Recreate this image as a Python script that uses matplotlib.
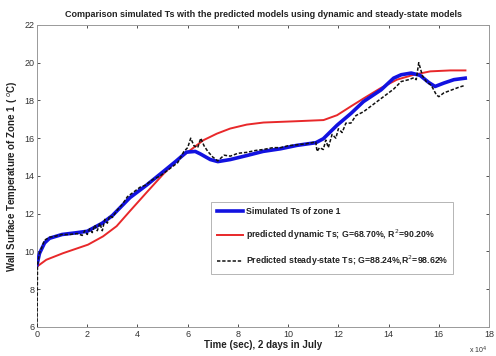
import matplotlib
matplotlib.use("Agg")
import matplotlib.pyplot as plt

plt.rcParams['font.family'] = ['Liberation Sans', 'DejaVu Sans']

# time in units of 1e4 seconds
t_sim = [0.0, 0.1, 0.3, 0.5, 1.0, 1.5, 2.0, 2.6, 3.0, 3.7, 4.35, 5.0, 5.55, 5.95, 6.3, 6.5,
         6.9, 7.2, 7.7, 8.35, 9.0, 9.7, 10.35, 11.1, 11.4, 11.95, 12.5, 13.0, 13.7, 14.2,
         14.5, 14.9, 15.25, 15.6, 15.85, 16.2, 16.6, 17.05]
ts_sim = [9.3, 9.9, 10.45, 10.7, 10.9, 10.98, 11.07, 11.5, 11.9, 12.85, 13.5, 14.2, 14.8,
          15.26, 15.3, 15.17, 14.87, 14.76, 14.87, 15.08, 15.3, 15.44, 15.62, 15.76, 15.97,
          16.69, 17.31, 17.94, 18.56, 19.18, 19.36, 19.45, 19.33, 18.95, 18.74, 18.92,
          19.1, 19.18]

t_dyn = [0.0, 0.37, 1.04, 2.03, 2.63, 3.17, 3.7, 4.36, 5.03, 5.56, 6.09, 6.62, 7.16, 7.69,
         8.35, 9.02, 10.35, 11.41, 11.95, 12.48, 13.01, 13.68, 14.33, 15.0, 15.66, 16.46,
         17.06]
ts_dyn = [9.2, 9.56, 9.91, 10.36, 10.8, 11.34, 12.14, 13.12, 14.1, 14.8, 15.35, 15.89,
          16.24, 16.51, 16.72, 16.83, 16.9, 16.96, 17.22, 17.67, 18.11, 18.65, 19.1, 19.36,
          19.54, 19.59, 19.59]

t_ss = [0.0, 0.02, 0.1, 0.3, 0.5, 0.7, 1.0, 1.3, 1.6, 1.8, 1.9, 2.0, 2.1, 2.2, 2.3, 2.4,
        2.5, 2.6, 2.7, 2.8, 2.9, 3.0, 3.2, 3.4, 3.6, 3.8, 4.1, 4.3, 4.6, 4.9, 5.3, 5.6, 5.85,
        6.0, 6.12, 6.25, 6.4, 6.52, 6.65, 6.8, 7.0, 7.2, 7.45, 7.7, 8.0, 8.35, 8.7, 9.0,
        9.4, 9.7, 10.0, 10.35, 10.7, 11.1, 11.15, 11.25, 11.4, 11.5, 11.6, 11.75, 11.9,
        12.0, 12.15, 12.3, 12.5, 12.7, 13.0, 13.3, 13.6, 13.9, 14.2, 14.5, 14.8, 15.0,
        15.1, 15.2, 15.35, 15.5, 15.7, 15.9, 16.0, 16.2, 16.4, 16.6, 16.8, 17.05]
ts_ss = [6.0, 9.3, 9.9, 10.6, 10.75, 10.8, 10.9, 10.9, 10.95, 10.85, 11.1, 10.9, 11.2,
         11.0, 11.4, 11.1, 11.5, 11.1, 11.7, 11.5, 11.9, 11.8, 12.2, 12.5, 12.9, 13.1,
         13.4, 13.5, 13.8, 14.0, 14.4, 14.7, 15.3, 15.5, 16.0, 15.6, 15.5, 16.0, 15.6,
         15.3, 15.0, 14.8, 15.1, 15.05, 15.2, 15.25, 15.35, 15.4, 15.5, 15.5, 15.6, 15.65,
         15.7, 15.8, 15.3, 15.5, 15.4, 15.9, 15.5, 16.2, 16.0, 16.5, 16.3, 16.8, 16.8,
         17.2, 17.4, 17.7, 18.0, 18.3, 18.6, 19.0, 19.1, 19.2, 19.1, 20.0, 19.3, 19.0,
         18.8, 18.3, 18.2, 18.4, 18.5, 18.6, 18.7, 18.8]

x_ticks = list(range(0, 19, 2))
y_ticks = list(range(6, 23, 2))

fig = plt.figure(figsize=(4.96, 3.56), dpi=100)
ax = fig.add_axes([0.0746, 0.0815, 0.9114, 0.8485])

ax.plot(t_sim, ts_sim, color='#1212e0', lw=2.6, label='Simulated Ts of zone 1', zorder=3)
ax.plot(t_dyn, ts_dyn, color='#e8282a', lw=1.4,
        label=r'predicted dynamic Ts; G=68.70%, R$^2$=90.20%', zorder=2)
ax.plot(t_ss, ts_ss, color='#111111', lw=1.1, ls=(0, (2.2, 1.2)),
        label=r'Predicted steady-state Ts; G=88.24%,R$^2$=98.62%', zorder=4)

ax.set_xlim(0, 18)
ax.set_ylim(6, 22)
ax.set_xticks(x_ticks)
ax.set_yticks(y_ticks)
ax.tick_params(direction='in', length=2.5, width=0.6, top=True, right=True,
               labelsize=6.5, colors='#333333', pad=2)
for s in ax.spines.values():
    s.set_color('#999999')
    s.set_linewidth(0.7)

ax.set_title('Comparison simulated Ts with the predicted models using dynamic and steady-state models',
             fontsize=6.5, fontweight='bold', color='#222222', pad=6)
ax.set_xlabel('Time (sec), 2 days in July', fontsize=7, fontweight='bold', color='#222222',
              labelpad=1)
ax.set_ylabel(r'Wall Surface Temperature of Zone 1 ( $^{o}$C)', fontsize=7,
              fontweight='bold', color='#222222', labelpad=3)
ax.text(0.995, -0.058, r'x 10$^4$', transform=ax.transAxes, fontsize=5, color='#333333',
        ha='right', va='top')

leg = ax.legend(loc='lower left', bbox_to_anchor=(0.376, 0.162, 0.555, 0.248),
                mode='expand', fontsize=6.3, labelspacing=1.35, handlelength=3.0,
                handletextpad=0.4, borderpad=0.6, fancybox=False, framealpha=1)
leg.get_frame().set_edgecolor('#aaaaaa')
leg.get_frame().set_linewidth(0.6)
for txt in leg.get_texts():
    txt.set_fontweight('bold')
    txt.set_color('#222222')

fig.savefig('out.png', dpi=100)
